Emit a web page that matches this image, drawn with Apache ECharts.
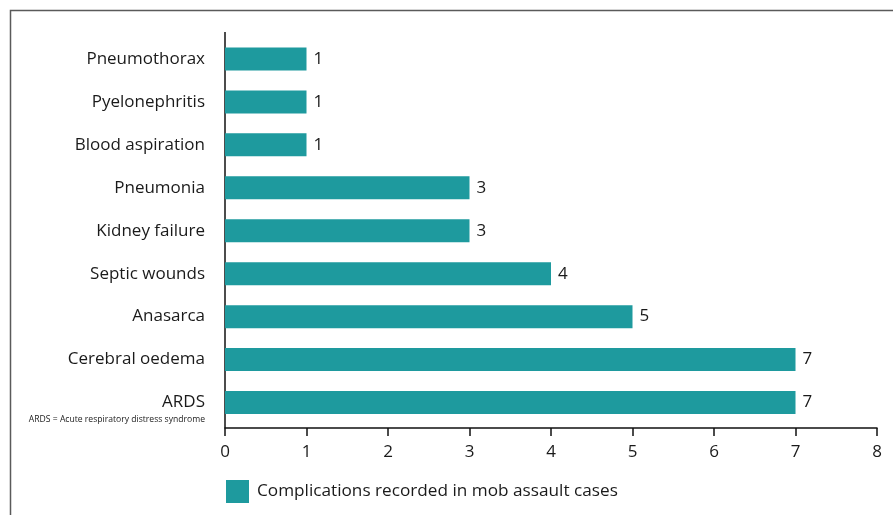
<!DOCTYPE html>
<html>
<head>
<meta charset="utf-8">
<title>Complications recorded in mob assault cases</title>
<script src="https://cdn.jsdelivr.net/npm/echarts@6/dist/echarts.min.js"></script>
<style>
  html, body { margin: 0; padding: 0; background: #ffffff; }
  #chart { width: 893px; height: 515px; }
</style>
</head>
<body>
<div id="chart"></div>
<script>
// Complication types, listed top to bottom
const categories = [
  'Pneumothorax',
  'Pyelonephritis',
  'Blood aspiration',
  'Pneumonia',
  'Kidney failure',
  'Septic wounds',
  'Anasarca',
  'Cerebral oedema',
  'ARDS'
];
// Number of cases for each complication
const caseCounts = [1, 1, 1, 3, 3, 4, 5, 7, 7];
const seriesName = 'Complications recorded in mob assault cases';
const footnote = 'ARDS = Acute respiratory distress syndrome';

const FONT = '"Open Sans", "Noto Sans", sans-serif';
const TEXT = '#1a1a1a';
const TEAL = '#1e9a9e';

const chart = echarts.init(document.getElementById('chart'), null, { renderer: 'canvas' });

chart.setOption({
  animation: false,
  backgroundColor: '#ffffff',
  textStyle: { fontFamily: FONT, color: TEXT },
  grid: { left: 225, right: 16, top: 37.5, height: 386.5 },
  xAxis: {
    type: 'value',
    min: 0,
    max: 8,
    interval: 1,
    offset: 4,
    axisLine: { show: true, lineStyle: { color: '#111', width: 1.5 } },
    axisTick: { show: true, length: 8, inside: false, lineStyle: { color: '#111', width: 1.5 } },
    axisLabel: { fontSize: 17, color: TEXT, fontFamily: FONT, margin: 16 },
    splitLine: { show: false }
  },
  yAxis: {
    type: 'category',
    data: categories,
    inverse: true,
    axisLine: { show: false },
    axisTick: { show: false },
    axisLabel: { fontSize: 17, color: TEXT, fontFamily: FONT, margin: 20 }
  },
  legend: {
    data: [seriesName],
    left: 226,
    top: 480,
    padding: 0,
    itemWidth: 23,
    itemHeight: 23,
    icon: 'rect',
    textStyle: { fontSize: 17.2, color: TEXT, fontFamily: FONT, padding: [0, 0, 0, 3] }
  },
  series: [{
    name: seriesName,
    type: 'bar',
    data: caseCounts,
    barWidth: 23,
    itemStyle: { color: TEAL },
    label: {
      show: true,
      position: 'right',
      distance: 7,
      fontSize: 17,
      color: TEXT,
      fontFamily: FONT
    }
  }],
  graphic: [
    {
      // outer frame
      type: 'rect',
      shape: { x: 10.5, y: 10.5, width: 900, height: 520 },
      style: { fill: 'none', stroke: '#5a5a5a', lineWidth: 1.5 },
      silent: true
    },
    {
      // vertical axis line, running a little past the bars
      type: 'line',
      shape: { x1: 225, y1: 32, x2: 225, y2: 428 },
      style: { stroke: '#111', lineWidth: 1.5 },
      silent: true
    },
    {
      type: 'text',
      right: 893 - 205,
      top: 415.5,
      style: { text: footnote, fontSize: 8.6, fill: TEXT, fontFamily: FONT }
    }
  ]
});
</script>
</body>
</html>
